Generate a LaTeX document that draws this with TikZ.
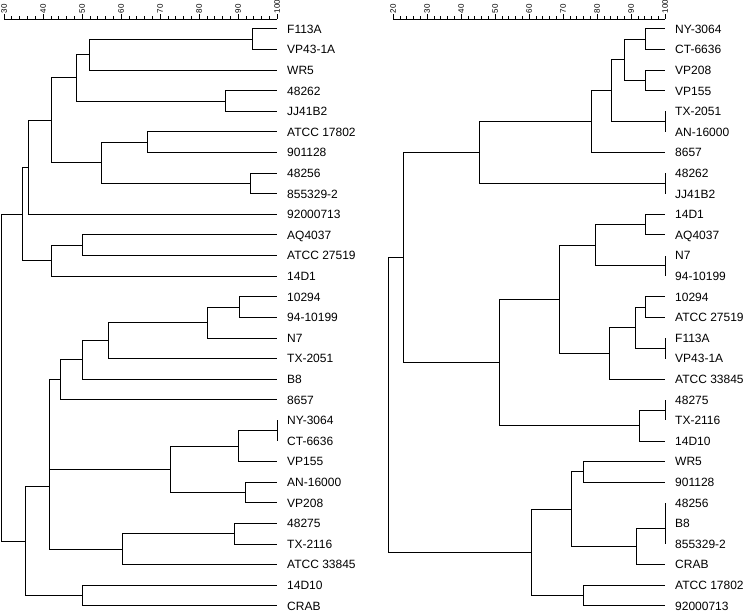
\documentclass[tikz,border=0pt]{standalone}
\usepackage{fontspec}
\setmainfont{Liberation Sans}
\usetikzlibrary{positioning}

\begin{document}
\begin{tikzpicture}[
  link/.style={draw=black,line width=1pt},
  axisline/.style={draw=black,line width=0.6pt},
  strain/.style={inner sep=0pt,text height=8.6pt,text depth=0pt,
     font=\fontsize{12}{14}\selectfont},
  ticklbl/.style={inner sep=0pt,rotate=90,anchor=west,
     font=\fontsize{8}{9}\selectfont}]
\useasboundingbox (0pt,0pt) rectangle (747pt,-612pt);

% left dendrogram, x = similarity (%), y = strain row
\begin{scope}[x=3.9pt,y=-20.6pt,xshift=-113pt,yshift=-29pt]
\draw[axisline] (30,-0.49) -- (100,-0.49);
\foreach \s in {30,32,...,100} \draw[axisline] (\s,-0.49) -- ++(0,2.5pt);
\foreach \s in {30,40,...,100} {
  \draw[axisline] (\s,-0.49) -- ++(0,5pt);
  \path (\s,-0.49) ++(0,5.5pt) node[ticklbl] (lsc\s) {\s};}
\foreach \t [count=\i from 0] in {F113A,VP43-1A,WR5,48262,JJ41B2,ATCC 17802,
    901128,48256,855329-2,92000713,AQ4037,ATCC 27519,14D1,10294,94-10199,N7,
    TX-2051,B8,8657,NY-3064,CT-6636,VP155,AN-16000,VP208,48275,TX-2116,
    ATCC 33845,14D10,CRAB}
  {\coordinate (L\i) at (100,\i);
   \node[strain,right=10pt of L\i] (lt\i) {\t};}
\coordinate (a1) at (93.8,0.5);
\coordinate (a2) at (51.8,1.25);
\coordinate (a3) at (86.9,3.5);
\coordinate (a4) at (48.7,2.375);
\coordinate (a5) at (66.7,5.5);
\coordinate (a6) at (93.1,7.5);
\coordinate (a7) at (54.9,6.5);
\coordinate (a8) at (42.1,4.4375);
\coordinate (a9) at (36.2,6.71875);
\coordinate (a10) at (50.1,10.5);
\coordinate (a11) at (42.2,11.25);
\coordinate (a12) at (34.7,8.984);
\coordinate (b1) at (90.5,13.5);
\coordinate (b2) at (82.1,14.25);
\coordinate (b3) at (56.7,15.125);
\coordinate (b4) at (50.1,16.0625);
\coordinate (b5) at (44.4,17.031);
\coordinate (c1) at (100,19.5);
\coordinate (c2) at (90,20.25);
\coordinate (c3) at (92,22.5);
\coordinate (c4) at (72.8,21.375);
\coordinate (b6) at (41.6,19.203);
\coordinate (d1) at (89,24.5);
\coordinate (d2) at (60.3,25.25);
\coordinate (b7) at (41.6,22.227);
\coordinate (e1) at (50.1,27.5);
\coordinate (b8) at (35.6,24.863);
\coordinate (lroot) at (29.4,16.924);
\draw[link] (a1) |- (L0) (a1) |- (L1);
\draw[link] (a2) |- (a1) (a2) |- (L2);
\draw[link] (a3) |- (L3) (a3) |- (L4);
\draw[link] (a4) |- (a2) (a4) |- (a3);
\draw[link] (a5) |- (L5) (a5) |- (L6);
\draw[link] (a6) |- (L7) (a6) |- (L8);
\draw[link] (a7) |- (a5) (a7) |- (a6);
\draw[link] (a8) |- (a4) (a8) |- (a7);
\draw[link] (a9) |- (a8) (a9) |- (L9);
\draw[link] (a10) |- (L10) (a10) |- (L11);
\draw[link] (a11) |- (a10) (a11) |- (L12);
\draw[link] (a12) |- (a9) (a12) |- (a11);
\draw[link] (b1) |- (L13) (b1) |- (L14);
\draw[link] (b2) |- (b1) (b2) |- (L15);
\draw[link] (b3) |- (b2) (b3) |- (L16);
\draw[link] (b4) |- (b3) (b4) |- (L17);
\draw[link] (b5) |- (b4) (b5) |- (L18);
\draw[link] (c1) |- (L19) (c1) |- (L20);
\draw[link] (c2) |- (c1) (c2) |- (L21);
\draw[link] (c3) |- (L22) (c3) |- (L23);
\draw[link] (c4) |- (c2) (c4) |- (c3);
\draw[link] (b6) |- (b5) (b6) |- (c4);
\draw[link] (d1) |- (L24) (d1) |- (L25);
\draw[link] (d2) |- (d1) (d2) |- (L26);
\draw[link] (b7) |- (b6) (b7) |- (d2);
\draw[link] (e1) |- (L27) (e1) |- (L28);
\draw[link] (b8) |- (b7) (b8) |- (e1);
\draw[link] (lroot) |- (a12) (lroot) |- (b8);
\end{scope}

% right dendrogram
\begin{scope}[x=3.4pt,y=-20.6pt,xshift=325pt,yshift=-29pt]
\draw[axisline] (20,-0.49) -- (100,-0.49);
\foreach \s in {20,22,...,100} \draw[axisline] (\s,-0.49) -- ++(0,2.5pt);
\foreach \s in {20,30,...,100} {
  \draw[axisline] (\s,-0.49) -- ++(0,5pt);
  \path (\s,-0.49) ++(0,5.5pt) node[ticklbl] (rsc\s) {\s};}
\foreach \t [count=\i from 0] in {NY-3064,CT-6636,VP208,VP155,TX-2051,
    AN-16000,8657,48262,JJ41B2,14D1,AQ4037,N7,94-10199,10294,ATCC 27519,
    F113A,VP43-1A,ATCC 33845,48275,TX-2116,14D10,WR5,901128,48256,B8,
    855329-2,CRAB,ATCC 17802,92000713}
  {\coordinate (R\i) at (100,\i);
   \node[strain,right=10pt of R\i] (rt\i) {\t};}
\coordinate (p1) at (94.4,0.5);
\coordinate (p2) at (94.4,2.5);
\coordinate (p3) at (88.2,1.5);
\coordinate (p4) at (100,4.5);
\coordinate (p5) at (84.4,3);
\coordinate (p6) at (78.5,4.5);
\coordinate (p7) at (100,7.5);
\coordinate (p8) at (45.3,6);
\coordinate (q1) at (94.4,9.5);
\coordinate (q2) at (100,11.5);
\coordinate (q3) at (79.7,10.5);
\coordinate (q4) at (94.4,13.5);
\coordinate (q5) at (100,15.5);
\coordinate (q6) at (91.2,14.5);
\coordinate (q7) at (83.8,15.75);
\coordinate (q8) at (69.1,13.125);
\coordinate (w1) at (100,18.5);
\coordinate (w2) at (92.4,19.25);
\coordinate (q9) at (51.2,16.1875);
\coordinate (p9) at (23.2,11.094);
\coordinate (s1) at (75.9,21.5);
\coordinate (s2) at (100,23.5);
\coordinate (s3) at (100,24.25);
\coordinate (s4) at (91.5,25.125);
\coordinate (s5) at (72.6,23.3125);
\coordinate (s6) at (75.9,27.5);
\coordinate (s7) at (60.6,25.406);
\coordinate (rroot) at (18.8,18.25);
\draw[link] (p1) |- (R0) (p1) |- (R1);
\draw[link] (p2) |- (R2) (p2) |- (R3);
\draw[link] (p3) |- (p1) (p3) |- (p2);
\draw[link] (p4) |- (R4) (p4) |- (R5);
\draw[link] (p5) |- (p3) (p5) |- (p4);
\draw[link] (p6) |- (p5) (p6) |- (R6);
\draw[link] (p7) |- (R7) (p7) |- (R8);
\draw[link] (p8) |- (p6) (p8) |- (p7);
\draw[link] (q1) |- (R9) (q1) |- (R10);
\draw[link] (q2) |- (R11) (q2) |- (R12);
\draw[link] (q3) |- (q1) (q3) |- (q2);
\draw[link] (q4) |- (R13) (q4) |- (R14);
\draw[link] (q5) |- (R15) (q5) |- (R16);
\draw[link] (q6) |- (q4) (q6) |- (q5);
\draw[link] (q7) |- (q6) (q7) |- (R17);
\draw[link] (q8) |- (q3) (q8) |- (q7);
\draw[link] (w1) |- (R18) (w1) |- (R19);
\draw[link] (w2) |- (w1) (w2) |- (R20);
\draw[link] (q9) |- (q8) (q9) |- (w2);
\draw[link] (p9) |- (p8) (p9) |- (q9);
\draw[link] (s1) |- (R21) (s1) |- (R22);
\draw[link] (s2) |- (R23) (s2) |- (R24);
\draw[link] (s3) |- (s2) (s3) |- (R25);
\draw[link] (s4) |- (s3) (s4) |- (R26);
\draw[link] (s5) |- (s1) (s5) |- (s4);
\draw[link] (s6) |- (R27) (s6) |- (R28);
\draw[link] (s7) |- (s5) (s7) |- (s6);
\draw[link] (rroot) |- (p9) (rroot) |- (s7);
\end{scope}
\end{tikzpicture}
\end{document}
